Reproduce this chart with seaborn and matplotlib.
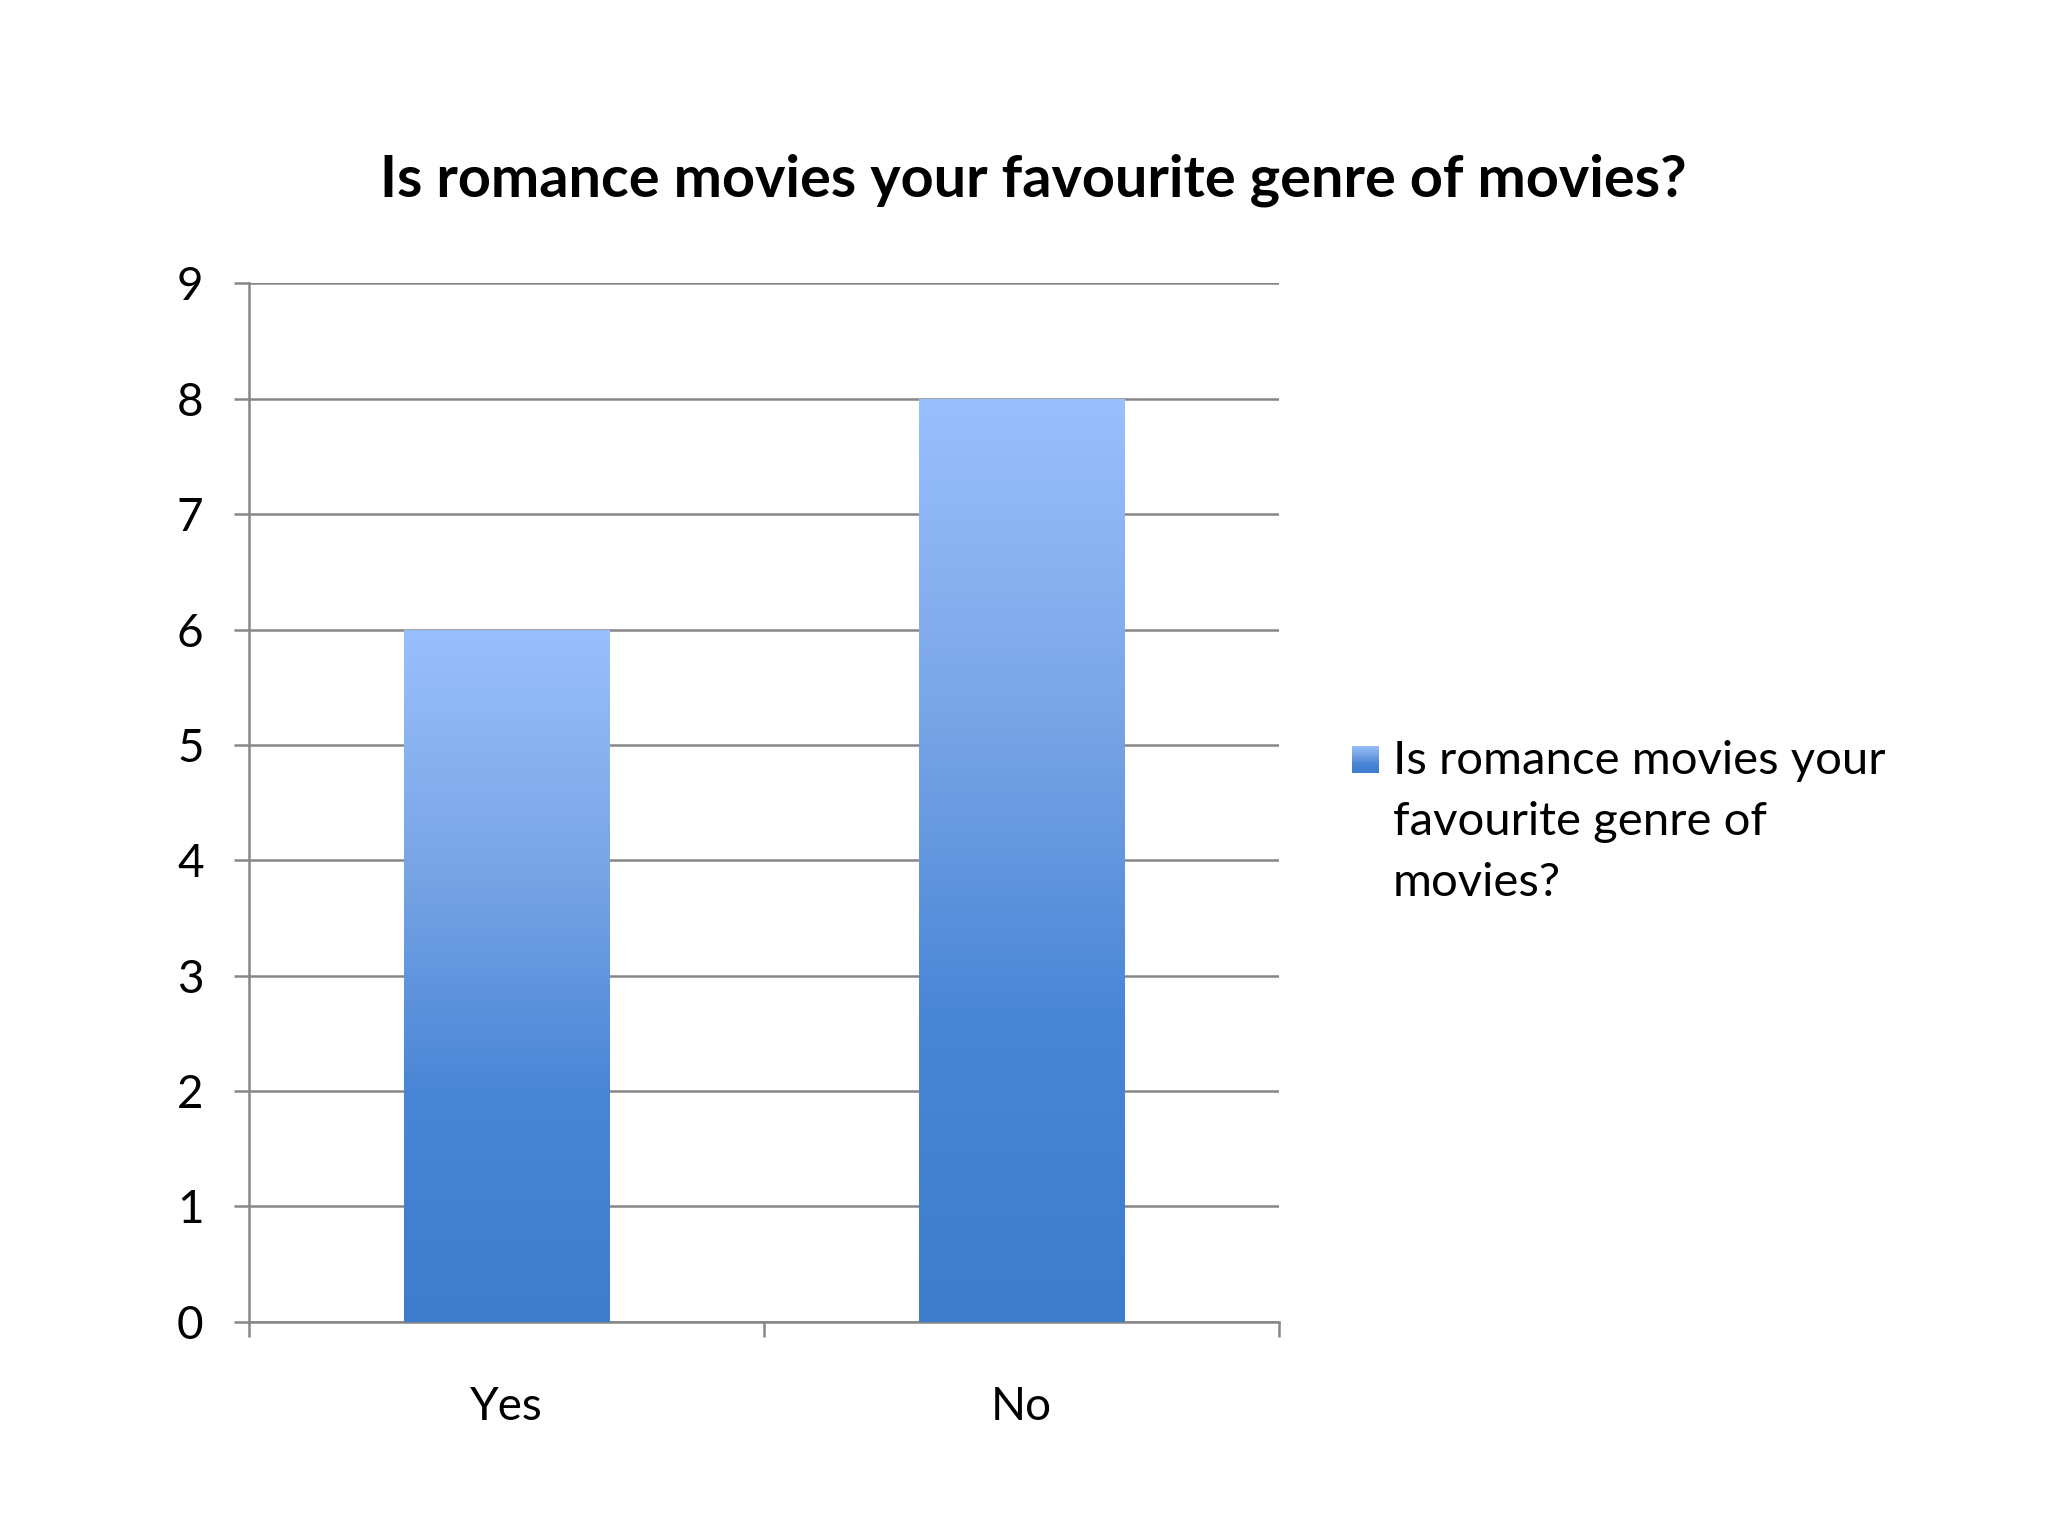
import numpy as np
import pandas as pd
import matplotlib
matplotlib.use("Agg")
import matplotlib.pyplot as plt
import seaborn as sns
from matplotlib.colors import LinearSegmentedColormap

# chart values
answers = ["Yes", "No"]
counts = [6, 8]
y_ticks = [0, 1, 2, 3, 4, 5, 6, 7, 8, 9]
chart_title = "Is romance movies your favourite genre of movies?"
series_label = "Is romance movies your\nfavourite genre of\nmovies?"

sns.set_style("white")
plt.rcParams['font.family'] = ['Lato', 'DejaVu Sans']
plt.rcParams['text.color'] = 'black'
plt.rcParams['xtick.color'] = 'black'
plt.rcParams['ytick.color'] = 'black'

grid_col = '#868686'
bar_cmap = LinearSegmentedColormap.from_list('bar', ['#3d7dcb', '#4a86d6', '#7aa6e6', '#9abffd'])

fig = plt.figure(figsize=(20.48, 15.36), dpi=100)
ax = fig.add_axes([0.1218, 0.1395, 0.5026, 0.676])

df = pd.DataFrame({'answer': answers, 'count': counts})
sns.barplot(data=df, x='answer', y='count', order=answers, width=0.4,
            color='#6d9de3', ax=ax, zorder=3)

# gradient fill clipped to each bar
grad = np.linspace(0, 1, 256).reshape(-1, 1)
for p in ax.patches:
    x0, y0 = p.get_x(), p.get_y()
    w, h = p.get_width(), p.get_height()
    im = ax.imshow(grad, cmap=bar_cmap, origin='lower', aspect='auto',
                   extent=[x0, x0 + w, y0, y0 + h], zorder=3)
    im.set_clip_path(p)
    p.set_facecolor('none')
    p.set_edgecolor('none')

ax.set_xlim(-0.5, len(answers) - 0.5)
ax.set_ylim(0, max(y_ticks))
ax.set_yticks(y_ticks)
ax.yaxis.grid(True, color=grid_col, lw=1.8)
ax.set_axisbelow(True)

for s in ['top', 'right']:
    ax.spines[s].set_visible(False)
for s in ['left', 'bottom']:
    ax.spines[s].set_color(grid_col)
    ax.spines[s].set_linewidth(1.8)

ax.set_xticks(np.arange(-0.5, len(answers), 1.0), minor=True)
ax.tick_params(axis='x', which='both', bottom=True)
ax.tick_params(axis='x', which='major', length=0, pad=46, labelsize=33)
ax.tick_params(axis='x', which='minor', length=11, width=1.8, color=grid_col)
ax.tick_params(axis='y', left=True, length=11, width=1.8, color=grid_col,
               labelcolor='black', pad=22, labelsize=33)
ax.set_xlabel('')
ax.set_ylabel('')

fig.text(0.5045, 0.8827, chart_title, ha='center', va='center',
         fontsize=41.5, fontweight='bold')

# legend key with the same gradient
lax = fig.add_axes([0.660, 0.4966, 0.0128, 0.0179])
lax.imshow(grad, cmap=bar_cmap, origin='lower', aspect='auto')
lax.set_axis_off()
fig.text(0.680, 0.518, series_label, ha='left', va='top', fontsize=34,
         linespacing=1.56)

fig.savefig('out.png', dpi=100, facecolor='white')
